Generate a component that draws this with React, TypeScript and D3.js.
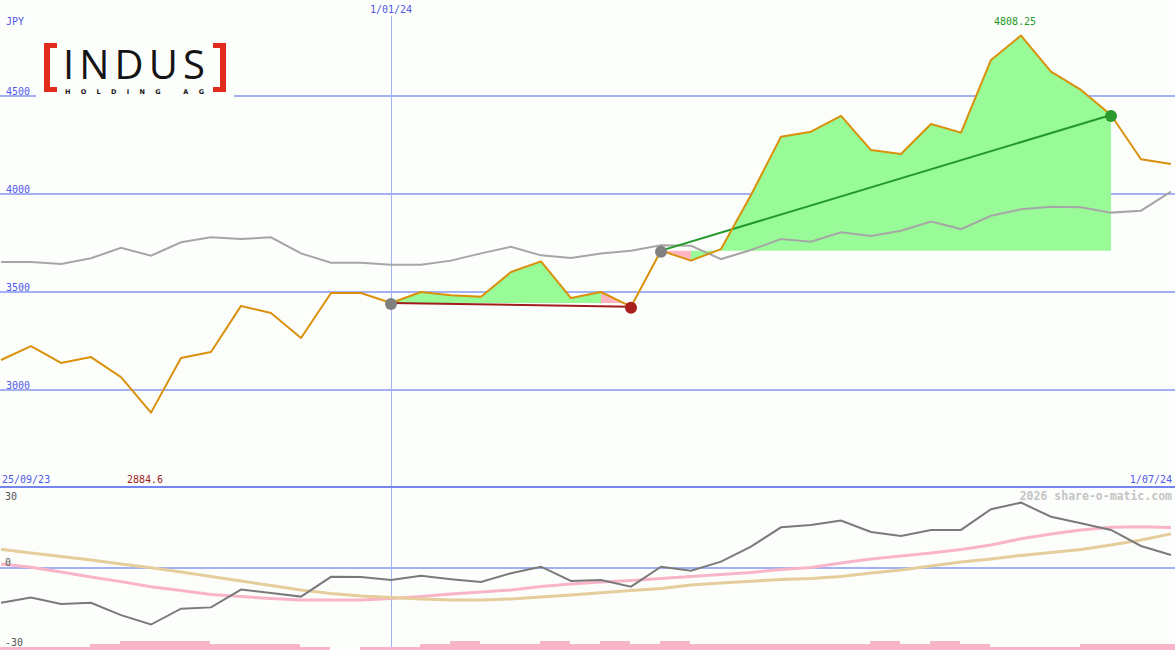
import { useRef, useEffect } from "react";
import * as d3 from "d3";

// weekly closes, JPY
const priceValues = [
  3153, 3224, 3138, 3168, 3066, 2884.6, 3163, 3194, 3429, 3393, 3265, 3495,
  3495, 3444, 3500, 3483, 3476, 3602, 3656, 3469, 3500, 3425, 3711, 3660,
  3719, 3995, 4292, 4318, 4399, 4224, 4204, 4357, 4313, 4684, 4808.25, 4624,
  4531, 4403, 4177, 4153,
];
const maValues = [
  3653, 3653, 3643, 3672, 3726, 3685, 3754, 3779, 3770, 3779, 3697, 3649,
  3649, 3639, 3639, 3660, 3697, 3731, 3687, 3673, 3697, 3711, 3738, 3736,
  3668, 3714, 3770, 3757, 3805, 3786, 3813, 3859, 3821, 3889, 3922, 3935,
  3932, 3905, 3915, 4012,
];
// lower panel
const momentumValues = [
  -15.8, -13.4, -16.4, -15.8, -21.4, -25.7, -18.5, -17.9, -9.8, -11.4, -13.0,
  -4.0, -4.1, -5.5, -3.5, -5.1, -6.4, -2.4, 0.6, -5.9, -5.5, -8.5, 0.6, -1.2,
  2.9, 9.7, 18.5, 19.5, 21.6, 16.4, 14.5, 17.3, 17.3, 26.7, 29.7, 23.3, 20.3,
  17.3, 10.0, 5.9,
];
const signalValues = [
  1.8, 0.3, -1.8, -4.1, -6.2, -8.5, -10.2, -12.0, -13.0, -13.9, -14.5, -14.5,
  -14.5, -13.9, -12.9, -11.8, -10.9, -10.0, -8.4, -7.3, -6.4, -5.7, -4.8, -3.9,
  -3.0, -2.0, -0.7, 0.2, 2.3, 4.1, 5.5, 6.8, 8.4, 10.5, 13.3, 15.5, 17.3, 18.5,
  18.8, 18.4,
];
const slowValues = [
  8.5, 6.8, 5.2, 3.6, 1.8, 0.1, -1.8, -3.9, -5.9, -8.0, -10.0, -11.6, -12.7,
  -13.4, -14.1, -14.5, -14.5, -14.1, -13.2, -12.3, -11.3, -10.2, -9.3, -7.7,
  -6.8, -6.0, -5.2, -4.8, -3.9, -2.3, -0.9, 0.9, 2.7, 4.1, 5.7, 7.0, 8.4, 10.5,
  12.7, 15.5,
];
const volumeLevels = [
  1, 1, 1, 2, 3, 3, 3, 2, 2, 2, 1, 0, 1, 1, 2, 3, 2, 2, 3, 2, 3, 2, 3, 2, 2, 2,
  2, 2, 2, 3, 2, 3, 2, 1, 1, 1, 2, 2, 2, 2,
];

const tradeEntry = [13, 22];
const tradeExit = [21, 37];
const tradePinkSegment = [20, 22];

const priceTicks = [4500, 4000, 3500, 3000];
const lowerTicks = [30, 0, -30];
const dateLines = [{ label: "1/01/24", index: 13 }];
const startLabel = "25/09/23";
const endLabel = "1/07/24";

const BG = "#fcfefc";
const GRID = "#a4b0f4";
const LABEL = "#5058e8";
const MONO = "'DejaVu Sans Mono', monospace";

const App = () => {
  const svgRef = useRef<SVGSVGElement>(null);
  const svgWidth = 1175;
  const svgHeight = 650;

  useEffect(() => {
    const svg = d3.select(svgRef.current);
    svg.selectAll("*").remove();

    const x = d3.scaleLinear().domain([0, priceValues.length - 1]).range([1, 1171]);
    const y = d3.scaleLinear().domain([3000, 4500]).range([390, 96]);
    const yLow = d3.scaleLinear().domain([-30, 30]).range([634, 502]);
    const yVol = d3.scaleLinear().domain([0, 3]).range([650, 641]);

    svg.append("rect").attr("width", svgWidth).attr("height", svgHeight).attr("fill", BG);

    const defs = svg.append("defs");
    defs.append("clipPath").attr("id", "mainClip")
      .append("rect").attr("x", 0).attr("y", 0).attr("width", svgWidth).attr("height", 486);
    defs.append("clipPath").attr("id", "lowClip")
      .append("rect").attr("x", 0).attr("y", 488).attr("width", svgWidth).attr("height", 162);

    // price grid
    svg.selectAll(".grid")
      .data(priceTicks)
      .enter()
      .append("line")
      .attr("x1", 0)
      .attr("x2", svgWidth)
      .attr("y1", (d) => y(d))
      .attr("y2", (d) => y(d))
      .attr("stroke", GRID)
      .attr("stroke-width", 2);

    dateLines.forEach((d) => {
      svg.append("line")
        .attr("x1", x(d.index)).attr("x2", x(d.index))
        .attr("y1", 16).attr("y2", svgHeight)
        .attr("stroke", GRID).attr("stroke-width", 1)
        .attr("shape-rendering", "crispEdges");
      svg.append("text")
        .attr("x", x(d.index)).attr("y", 13)
        .attr("text-anchor", "middle")
        .attr("font-family", MONO).attr("font-size", "10px")
        .attr("fill", LABEL)
        .text(d.label);
    });

    const main = svg.append("g").attr("clip-path", "url(#mainClip)");

    // trade fills
    tradeEntry.forEach((entry, t) => {
      const exit = tradeExit[t];
      const pink = tradePinkSegment[t];
      const base = priceValues[entry];
      const area = d3.area<number>()
        .x((i) => x(i))
        .y0(y(base))
        .y1((i) => y(priceValues[i]));
      const greenA = d3.range(entry, pink + 1);
      const greenB = d3.range(pink + 1, exit + 1);
      [greenA, greenB].forEach((idx) => {
        if (idx.length > 1) main.append("path").attr("d", area(idx)).attr("fill", "#98fb98");
      });
      main.append("path").attr("d", area([pink, pink + 1])).attr("fill", "#ffb6c1");
    });

    const line = (vals: number[], sc: d3.ScaleLinear<number, number>) =>
      d3.line<number>().x((_, i) => x(i)).y((v) => sc(v))(vals);

    main.append("path")
      .attr("d", line(maValues, y))
      .attr("fill", "none").attr("stroke", "#a6a6a6").attr("stroke-width", 2);

    // trade lines
    tradeEntry.forEach((entry, t) => {
      const exit = tradeExit[t];
      const win = priceValues[exit] > priceValues[entry];
      main.append("line")
        .attr("x1", x(entry)).attr("y1", y(priceValues[entry]))
        .attr("x2", x(exit)).attr("y2", y(priceValues[exit]))
        .attr("stroke", win ? "#22992a" : "#a21c1c").attr("stroke-width", 2);
    });

    main.append("path")
      .attr("d", line(priceValues, y))
      .attr("fill", "none").attr("stroke", "#d9900a").attr("stroke-width", 2)
      .attr("stroke-linejoin", "round");

    tradeEntry.forEach((entry, t) => {
      const exit = tradeExit[t];
      const win = priceValues[exit] > priceValues[entry];
      main.append("circle")
        .attr("cx", x(entry)).attr("cy", y(priceValues[entry]) + 1).attr("r", 6)
        .attr("fill", "#808080");
      main.append("circle")
        .attr("cx", x(exit)).attr("cy", y(priceValues[exit]) + 1).attr("r", 6)
        .attr("fill", win ? "#2a9a2a" : "#aa1e1e");
    });

    // y labels
    svg.selectAll(".ylab")
      .data(priceTicks)
      .enter()
      .append("text")
      .attr("x", 6)
      .attr("y", (d) => y(d) - 1)
      .attr("font-family", MONO).attr("font-size", "10px")
      .attr("fill", LABEL)
      .text((d) => d);
    svg.append("text").attr("x", 6).attr("y", 25)
      .attr("font-family", MONO).attr("font-size", "10px").attr("fill", LABEL).text("JPY");

    // high / low
    const hi = d3.maxIndex(priceValues);
    const lo = d3.minIndex(priceValues);
    svg.append("text")
      .attr("x", x(hi) - 6).attr("y", 25).attr("text-anchor", "middle")
      .attr("font-family", MONO).attr("font-size", "10px").attr("fill", "#229922")
      .text(priceValues[hi].toFixed(2));
    svg.append("text")
      .attr("x", x(lo) - 6).attr("y", 483).attr("text-anchor", "middle")
      .attr("font-family", MONO).attr("font-size", "10px").attr("fill", "#a01c1c")
      .text(String(priceValues[lo]));

    svg.append("text").attr("x", 2).attr("y", 483)
      .attr("font-family", MONO).attr("font-size", "10px").attr("fill", LABEL).text(startLabel);
    svg.append("text").attr("x", 1172).attr("y", 483).attr("text-anchor", "end")
      .attr("font-family", MONO).attr("font-size", "10px").attr("fill", LABEL).text(endLabel);

    // logo
    const logo = svg.append("g");
    logo.append("rect").attr("x", 36).attr("y", 38).attr("width", 198).attr("height", 61).attr("fill", BG);
    logo.append("path").attr("d", "M44,43 H57 V48 H50 V87 H57 V92 H44 Z").attr("fill", "#e02a1e");
    logo.append("path").attr("d", "M226,43 H213 V48 H220 V87 H213 V92 H226 Z").attr("fill", "#e02a1e");
    logo.append("text")
      .attr("x", 63).attr("y", 79)
      .attr("font-family", "'Open Sans', sans-serif").attr("font-size", "40px")
      .attr("textLength", 142).attr("lengthAdjust", "spacing")
      .attr("fill", "#141414").text("INDUS");
    logo.append("text")
      .attr("x", 65).attr("y", 94)
      .attr("font-family", "'DejaVu Sans', sans-serif").attr("font-size", "6.5px").attr("font-weight", "bold")
      .attr("textLength", 139).attr("lengthAdjust", "spacing")
      .attr("fill", "#141414").text("HOLDING AG");

    // separator
    svg.append("line")
      .attr("x1", 0).attr("x2", svgWidth).attr("y1", 487).attr("y2", 487)
      .attr("stroke", "#7484f0").attr("stroke-width", 2);

    // lower panel
    const low = svg.append("g").attr("clip-path", "url(#lowClip)");
    low.append("line")
      .attr("x1", 0).attr("x2", svgWidth).attr("y1", yLow(0)).attr("y2", yLow(0))
      .attr("stroke", GRID).attr("stroke-width", 2);

    low.selectAll(".vol")
      .data(volumeLevels)
      .enter()
      .append("rect")
      .attr("x", (_, i) => x(i) - 1)
      .attr("width", 30)
      .attr("y", (d) => yVol(d))
      .attr("height", (d) => 650 - yVol(d))
      .attr("fill", "#f8b4c8");

    low.append("path")
      .attr("d", line(signalValues, yLow))
      .attr("fill", "none").attr("stroke", "#f9b4c8").attr("stroke-width", 3);
    low.append("path")
      .attr("d", line(slowValues, yLow))
      .attr("fill", "none").attr("stroke", "#e6cd9c").attr("stroke-width", 3);
    low.append("path")
      .attr("d", line(momentumValues, yLow))
      .attr("fill", "none").attr("stroke", "#7a7a7a").attr("stroke-width", 2);

    const lowLabelY: Record<number, number> = { 30: 500, 0: 566, [-30]: 646 };
    svg.selectAll(".lowlab")
      .data(lowerTicks)
      .enter()
      .append("text")
      .attr("x", 5)
      .attr("y", (d) => lowLabelY[d])
      .attr("font-family", MONO).attr("font-size", "10px")
      .attr("fill", "#555555")
      .text((d) => d);

    svg.append("text")
      .attr("x", 1172).attr("y", 500).attr("text-anchor", "end")
      .attr("font-family", MONO).attr("font-size", "11.5px").attr("font-weight", "bold")
      .attr("fill", "#c4c4c4")
      .text("2026 share-o-matic.com");
  }, []);

  return (
    <svg
      ref={svgRef}
      width={svgWidth}
      height={svgHeight}
      style={{ position: "absolute", left: 0, top: 0 }}
    />
  );
};

export default App;
